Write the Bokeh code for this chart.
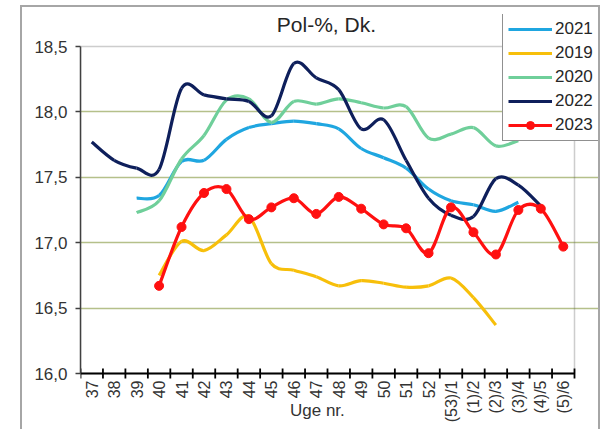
import math
from bokeh.plotting import figure
from bokeh.models import (Range1d, FixedTicker, CustomJSTickFormatter, Legend,
                          LegendItem, Label, ColumnDataSource, BoxAnnotation)
from bokeh.core.properties import value
from bokeh.embed import file_html
from bokeh.resources import INLINE

# ---------------- data ----------------
weeks = ["37", "38", "39", "40", "41", "42", "43", "44", "45", "46", "47",
         "48", "49", "50", "51", "52", "(53)/1", "(1)/2", "(2)/3", "(3)/4",
         "(4)/5", "(5)/6"]

N = None
s2021 = [N, N, 17.34, 17.36, 17.62, 17.63, 17.79, 17.88, 17.91, 17.93, 17.91,
         17.87, 17.72, 17.65, 17.57, 17.41, 17.32, 17.29, 17.24, 17.31, N, N]
s2019 = [N, N, N, 16.75, 17.01, 16.94, 17.06, 17.20, 16.84, 16.79, 16.74,
         16.67, 16.71, 16.69, 16.66, 16.67, 16.73, 16.58, 16.37, N, N, N]
s2020 = [N, N, 17.23, 17.32, 17.64, 17.82, 18.09, 18.10, 17.92, 18.08, 18.06,
         18.10, 18.07, 18.03, 18.04, 17.80, 17.83, 17.88, 17.74, 17.78, N, N]
s2022 = [17.77, 17.63, 17.57, 17.56, 18.18, 18.13, 18.10, 18.08, 17.97, 18.37,
         18.26, 18.17, 17.87, 17.94, 17.63, 17.34, 17.21, 17.20, 17.49, 17.44,
         17.28, N]
s2023 = [N, N, N, 16.67, 17.12, 17.38, 17.41, 17.18, 17.27, 17.34, 17.22,
         17.35, 17.26, 17.14, 17.11, 16.92, 17.27, 17.08, 16.91, 17.25, 17.26,
         16.97]

series_names = ["2021", "2019", "2020", "2022", "2023"]
series_values = [s2021, s2019, s2020, s2022, s2023]
series_colors = ["#1fa6e0", "#f7bf0a", "#6fcf9a", "#0e1f5b", "#ff1010"]

y_ticks = [16.0, 16.5, 17.0, 17.5, 18.0, 18.5]
y_grid = [16.5, 17.0, 17.5, 18.0]
title_text = "Pol-%, Dk."
x_title = "Uge nr."

FONT = "Liberation Sans"

# ---------------- layout (pixels) ----------------
NCAT = len(weeks)
Y0, Y1 = 16.0, 18.5
PLOT_W, PLOT_H = 494, 327          # data area in px
EXTRA_TOP, EXTRA_RIGHT, EXTRA_BOTTOM = 32, 24, 56
pxx = PLOT_W / NCAT
pxy = PLOT_H / (Y1 - Y0)
x_hi = NCAT + EXTRA_RIGHT / pxx
y_lo = Y0 - EXTRA_BOTTOM / pxy
y_hi = Y1 + EXTRA_TOP / pxy

p = figure(frame_width=PLOT_W + EXTRA_RIGHT, frame_height=PLOT_H + EXTRA_TOP + EXTRA_BOTTOM,
           output_backend="svg", toolbar_location=None,
           x_range=Range1d(0, x_hi), y_range=Range1d(y_lo, y_hi),
           min_border_left=58, min_border_right=0, min_border_top=7,
           min_border_bottom=0)
p.margin = (5, 0, 0, 20)
p.styles = {"border-left": "2px solid #a6a6a6", "border-top": "2px solid #a6a6a6",
            "border-right": "2px solid #a6a6a6"}
p.background_fill_color = "white"
p.border_fill_color = "white"
p.outline_line_color = None
p.xaxis.visible = False

# plot-area border
p.add_layout(BoxAnnotation(left=0, right=NCAT, bottom=Y0, top=Y1,
                           fill_alpha=0, line_color="#5a5a5a", line_width=1.5,
                           level="underlay"))

# x axis rule and boundary ticks at y = 16
bounds = [float(i) for i in range(NCAT + 1)]
p.segment(x0=[bounds[0]], y0=[Y0], x1=[bounds[-1]], y1=[Y0],
          line_color="black", line_width=1.8)
p.segment(x0=bounds, y0=[Y0 - 5 / pxy] * len(bounds), x1=bounds,
          y1=[Y0 + 5 / pxy] * len(bounds), line_color="black", line_width=1.8)

ya = p.yaxis[0]
ya.bounds = (Y0, Y1)
ya.ticker = FixedTicker(ticks=y_ticks)
ya.formatter = CustomJSTickFormatter(code="return tick.toFixed(1).replace('.', ',');")
ya.major_tick_in = 0
ya.major_tick_out = 5
ya.minor_tick_line_color = None
ya.axis_line_color = "#404040"
ya.axis_line_width = 1.5
ya.major_tick_line_color = "#404040"
ya.major_tick_line_width = 1.5
ya.major_label_standoff = 8
ya.major_label_text_font = FONT
ya.major_label_text_font_size = "17px"
ya.major_label_text_color = "#333333"

p.xgrid.visible = False
p.ygrid.ticker = FixedTicker(ticks=y_grid)
p.ygrid.bounds = (0, NCAT)
p.ygrid.grid_line_color = "#b5c08a"
p.ygrid.grid_line_width = 1.5

# week labels (rotated), at category centres
centres = [i + 0.5 for i in range(NCAT)]
p.text(x=centres, y=[Y0 - 7 / pxy] * NCAT, text=weeks, angle=math.pi / 2,
       text_align="right", text_baseline="middle", text_font=value(FONT),
       text_font_size="16px", text_color="#333333")


def segments(vals):
    """Catmull-Rom (Excel-like smoothing) bezier segments for a series."""
    pts = [(i + 0.5, v) for i, v in enumerate(vals) if v is not None]
    d = dict(x0=[], y0=[], x1=[], y1=[], cx0=[], cy0=[], cx1=[], cy1=[])
    n = len(pts)
    for k in range(n - 1):
        p0 = pts[k - 1] if k > 0 else pts[k]
        p1 = pts[k]
        p2 = pts[k + 1]
        p3 = pts[k + 2] if k + 2 < n else pts[k + 1]
        d["x0"].append(p1[0]); d["y0"].append(p1[1])
        d["x1"].append(p2[0]); d["y1"].append(p2[1])
        d["cx0"].append(p1[0] + (p2[0] - p0[0]) / 6.0)
        d["cy0"].append(p1[1] + (p2[1] - p0[1]) / 6.0)
        d["cx1"].append(p2[0] - (p3[0] - p1[0]) / 6.0)
        d["cy1"].append(p2[1] - (p3[1] - p1[1]) / 6.0)
    return ColumnDataSource(d), pts


items = []
for name, vals, col in zip(series_names, series_values, series_colors):
    src, pts = segments(vals)
    r = p.bezier(x0="x0", y0="y0", x1="x1", y1="y1", cx0="cx0", cy0="cy0",
                 cx1="cx1", cy1="cy1", source=src, line_color=col,
                 line_width=3.2)
    rs = [r]
    if name == "2023":
        ms = p.scatter([q[0] for q in pts], [q[1] for q in pts], size=9,
                       color=col, marker="circle")
        rs.append(ms)
    items.append(LegendItem(label=name, renderers=rs))

legend = Legend(items=items, location=(422, PLOT_H + EXTRA_BOTTOM - 95),
                border_line_color="#222222",
                border_line_width=1.5, background_fill_alpha=1.0,
                label_text_font=FONT, label_text_font_size="17px",
                label_text_color="#262626", glyph_width=44, glyph_height=20,
                label_height=20, spacing=4, padding=5, margin=0,
                label_standoff=3)
p.add_layout(legend, "center")

# title and x-axis title (inside the frame area, above / below the data area)
p.add_layout(Label(x=NCAT / 2 - 0.05, y=Y1 + 22 / pxy, text=title_text,
                   text_align="center", text_baseline="middle", text_font=FONT,
                   text_font_size="21px", text_color="#262626"))
p.add_layout(Label(x=10.55, y=Y0 - 37 / pxy, text=x_title, text_align="center",
                   text_baseline="middle", text_font=FONT,
                   text_font_size="17px", text_color="#333333"))

open("out.html", "w").write(file_html(p, INLINE))
